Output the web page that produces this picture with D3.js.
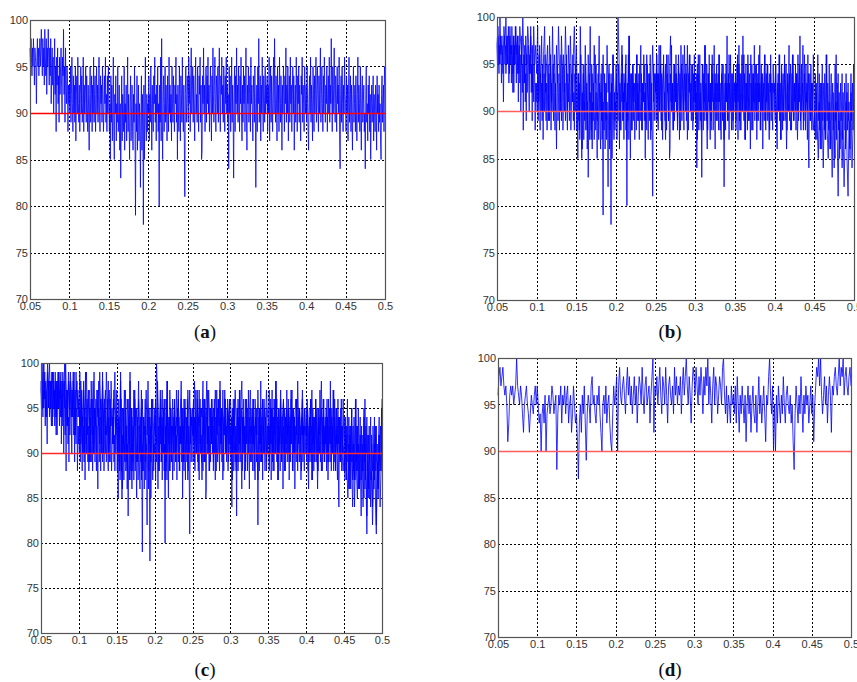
<!DOCTYPE html>
<meta charset="utf-8" />
<script src="https://d3js.org/d3.v7.min.js"></script>
<style>
  body {
    margin: 0;
    background: #fff;
  }
  .tick text {
    font-family: Arial, "Liberation Sans", sans-serif;
    font-size: 11px;
    fill: #333;
  }
  .panel-label {
    font-family: "Liberation Serif", "DejaVu Serif", serif;
    font-size: 19px;
    fill: #111;
  }
</style>
<body>
<div id="chart"></div>
<script>
  // tick values
  var xTicks = [0.05, 0.1, 0.15, 0.2, 0.25, 0.3, 0.35, 0.4, 0.45, 0.5];
  var yTicks = [70, 75, 80, 85, 90, 95, 100];
  var threshold = 90;

  var seriesA = [
    97,95,98,96,94,97,95,98,96,93,97,96,95,91,96,98,95,97,94,96,98,95,97,99,96,94,98,95,97,93,99,96,94,98,92,97,95,99,96,93,
    97,94,98,91,95,97,93,96,90,94,98,92,95,88,96,93,97,91,94,89,96,92,95,97,93,90,96,94,99,92,95,89,97,93,91,95,94,88,93,91,
    93,90,95,89,92,96,91,88,94,90,93,89,95,87,92,94,90,96,91,89,93,88,92,95,90,94,89,91,96,88,93,90,92,95,89,94,91,88,93,90,
    86,92,95,89,91,94,88,93,90,96,89,92,94,88,91,95,90,93,89,92,96,90,88,94,91,93,89,95,92,88,90,94,91,96,89,92,88,94,90,95,
    92,88,91,85,94,89,93,87,90,96,88,85,92,90,94,87,91,89,95,88,90,93,86,91,83,89,94,87,92,90,88,95,86,91,89,93,87,90,96,88,
    92,89,85,91,94,87,90,93,88,86,92,89,95,87,79,91,88,94,86,90,93,87,91,89,82,90,94,86,92,88,78,93,85,90,96,89,87,92,88,91,
    90,94,87,92,89,95,91,86,93,90,88,94,91,96,89,92,87,93,90,95,88,91,80,93,89,96,87,98,90,85,92,94,88,91,95,89,93,90,87,94,
    91,88,96,90,93,89,92,87,95,91,89,94,90,88,93,91,96,89,92,85,93,90,88,95,91,87,94,92,89,96,90,88,93,87,81,92,95,89,91,94,
    92,89,96,91,94,88,93,97,90,92,95,89,94,91,87,93,96,90,92,89,95,91,88,94,92,96,89,93,85,86,94,91,97,90,93,88,92,95,89,94,
    91,96,90,93,88,92,95,91,87,94,90,97,92,89,93,96,91,88,94,92,90,95,89,93,97,91,88,94,92,96,90,93,89,95,92,88,94,91,96,90,
    93,89,92,84,95,90,94,88,91,96,89,93,90,83,92,95,88,94,91,97,90,93,89,95,92,88,94,91,96,90,87,93,89,95,91,94,88,92,97,90,
    86,93,91,95,89,92,94,88,96,91,93,90,87,94,92,89,95,91,82,90,93,88,95,91,98,89,92,94,87,93,90,96,91,88,94,92,89,95,90,93,
    91,94,88,93,90,96,87,92,95,89,94,91,88,93,96,90,98,92,89,94,91,87,95,90,93,88,96,92,89,94,91,86,93,90,95,92,88,94,91,97,
    89,93,90,95,87,92,94,89,96,91,93,88,92,95,90,94,86,91,93,89,96,92,88,94,91,95,89,93,90,87,94,92,96,89,93,91,88,95,92,90,
    93,89,95,91,88,86,92,94,90,96,89,93,91,87,95,92,88,94,90,93,96,89,92,95,91,88,94,90,93,97,89,92,95,91,88,94,90,96,92,89,
    93,91,95,88,92,94,90,96,89,93,91,98,92,88,95,90,93,97,91,89,94,92,88,95,91,93,90,96,87,84,92,94,89,95,91,88,93,90,96,92,
    91,88,94,90,93,87,92,96,89,91,94,88,93,90,86,92,95,89,91,93,88,94,90,87,92,96,89,93,91,88,95,90,86,92,94,89,91,93,88,90,
    84,92,95,89,91,87,93,90,94,88,92,85,90,93,89,91,94,87,92,90,88,93,91,86,94,90,92,88,93,89,91,87,85,92,94,89,91,93,88,95,
    93
  ];

  var seriesB = [
    97,99,95,100,96,98,94,99,97,100,95,98,93,99,96,97,92,98,95,99,96,98,94,99,97,95,100,96,93,98,95,99,97,94,98,96,92,99,95,97,
    94,99,91,97,93,98,90,96,99,92,95,97,89,98,94,91,99,93,96,90,97,93,99,95,91,98,94,96,92,99,95,90,97,93,98,94,91,96,99,93,
    97,91,94,88,99,92,86,95,90,97,93,88,96,91,99,87,94,90,97,93,95,89,92,98,90,94,87,96,91,93,89,97,92,95,88,94,90,96,92,89,
    95,92,100,96,88,93,97,89,94,91,96,87,92,98,90,94,88,95,91,93,90,96,89,94,92,97,88,93,91,95,89,96,92,90,94,87,93,97,91,94,
    92,96,89,94,90,97,88,93,95,91,87,96,92,89,94,98,90,93,88,95,91,94,89,96,92,88,95,93,90,97,91,94,87,93,96,90,92,95,89,94,
    91,94,87,96,90,92,88,95,93,89,97,91,86,94,90,93,88,96,92,90,94,89,93,91,96,88,92,95,90,87,94,91,93,89,96,92,90,94,88,93,
    93,89,95,91,97,88,94,90,92,96,87,93,91,95,89,92,96,88,94,90,92,95,89,93,91,97,88,94,90,93,96,89,92,95,91,88,94,90,93,92,
    92,95,88,93,90,96,87,94,91,89,95,92,86,93,90,94,88,91,96,89,93,90,94,87,92,95,89,91,93,88,96,90,92,87,94,91,89,93,90,88,
    90,87,92,88,85,91,86,93,89,84,90,87,96,88,85,91,86,89,83,92,87,85,96,88,81,89,86,90,84,88,82,87,91,85,81,89,86,92,84,88,
    93
  ];

  var seriesC = [
    98,95,100,96,99,94,97,100,95,98,96,93,99,97,95,98,94,96,99,95,97,99,94,98,96,100,95,97,93,99,96,98,94,97,95,99,92,96,98,94,
    96,92,98,94,90,97,93,99,91,95,97,89,94,96,92,98,90,95,93,97,94,98,91,96,93,99,90,95,97,92,94,98,89,96,93,95,91,97,94,92,
    94,90,96,92,98,88,95,91,97,93,89,96,94,90,98,92,95,88,94,97,92,95,89,96,93,91,97,88,94,92,96,90,93,98,91,95,89,94,96,92,
    93,96,91,98,94,89,95,92,97,90,94,96,88,95,93,91,97,94,89,96,92,95,90,97,93,96,91,94,98,92,95,89,96,93,91,97,94,90,95,93,
    95,92,98,94,90,96,93,97,91,95,94,98,89,96,93,95,91,97,94,92,96,93,95,90,97,94,92,96,93,98,91,95,94,92,97,93,90,96,94,95,
    96,93,90,95,92,97,94,89,96,93,91,95,98,92,94,90,96,93,95,91,94,97,92,95,93,90,96,94,92,97,93,95,89,94,96,92,95,93,97,94,
    94,97,91,95,93,90,96,92,98,94,89,95,93,97,91,94,96,90,93,95,92,96,94,91,97,93,95,90,94,96,92,98,93,95,91,94,97,92,95,93,
    92,96,94,89,95,93,97,91,94,90,96,93,88,95,92,94,98,91,93,90,94,92,96,89,93,95,91,94,90,97,92,88,95,93,91,94,89,96,92,90,
    91,94,88,93,90,86,92,89,95,87,91,84,90,88,93,86,89,92,87,91,88,94,86,90,83,89,92,85,88,91,84,90,87,93,82,89,86,92,88,90,
    96
  ];

  var seriesD = [
    96,98,99,97,98,99,97,96,97,95,91,93,96,97,96,97,95,96,97,100,97,96,95,97,96,94,92,95,96,97,95,94,92,94,96,95,94,96,97,95,
    97,95,93,94,90,94,95,93,96,90,94,95,96,94,95,97,96,94,95,96,88,94,96,95,97,93,96,95,97,94,96,97,93,95,96,92,94,97,95,93,
    94,91,87,93,95,92,96,94,97,93,89,94,96,95,93,97,98,95,96,94,93,96,95,97,94,92,90,95,96,94,97,93,95,96,93,91,90,94,97,95,
    96,98,90,97,99,96,95,97,98,96,94,97,99,96,98,95,97,94,96,98,95,97,93,96,98,97,95,99,96,94,97,98,95,96,97,93,96,98,100,92,
    97,96,98,95,97,99,96,94,98,97,95,99,96,93,97,98,96,95,97,94,99,96,98,95,97,96,98,94,97,99,96,98,100,97,95,98,96,93,97,99,
    98,96,99,97,95,98,96,99,97,94,98,96,99,97,100,95,98,96,93,97,99,95,98,97,94,96,98,97,95,99,100,96,94,97,93,96,95,93,97,95,
    96,94,97,93,98,95,92,96,94,97,95,93,96,91,95,97,94,96,92,95,97,94,93,96,92,95,98,94,96,93,95,97,94,91,96,95,98,100,96,94,
    97,90,95,90,96,93,97,95,93,96,94,98,95,93,96,97,95,94,96,93,95,91,88,94,97,95,93,96,94,98,95,92,96,94,97,95,96,93,95,97,
    94,96,91,95,97,99,98,100,97,100,96,94,96,98,95,97,93,96,98,96,92,97,96,98,99,97,96,98,100,97,99,98,100,96,98,99,97,96,98,99,
    97
  ];

  var svg = d3
    .select("#chart")
    .append("svg")
    .attr("width", 857)
    .attr("height", 682);

  // panel boxes (pixel layout of the four sub-figures)
  var panels = [
    { name: "a", left: 30, top: 20, width: 355, height: 279, series: [seriesA], red: "#ff0000", labelX: 205, labelY: 338 },
    { name: "b", left: 497, top: 17, width: 357, height: 283, series: [seriesA, seriesB], red: "#ff5c5c", labelX: 670, labelY: 338 },
    { name: "c", left: 41, top: 363, width: 341, height: 270, series: [seriesA, seriesB, seriesC], red: "#ff2a2a", labelX: 205, labelY: 676 },
    { name: "d", left: 498, top: 358, width: 353, height: 279, series: [seriesD], red: "#ff5c5c", labelX: 670, labelY: 676 }
  ];

  panels.forEach(function(p) {
    var g = svg
      .append("g")
      .attr("transform", "translate(" + p.left + "," + p.top + ")");

    var x = d3.scaleLinear().domain([0.05, 0.5]).range([0, p.width]);
    var y = d3.scaleLinear().domain([70, 100]).range([p.height, 0]);

    // dotted grid
    g.append("g")
      .selectAll("line")
      .data(xTicks.slice(1, -1))
      .enter()
      .append("line")
      .attr("x1", function(d) { return Math.round(x(d)) + 0.5; })
      .attr("x2", function(d) { return Math.round(x(d)) + 0.5; })
      .attr("y1", 0)
      .attr("y2", p.height)
      .style("stroke", "#000")
      .style("stroke-dasharray", "2,2");

    g.append("g")
      .selectAll("line")
      .data(yTicks.slice(1, -1))
      .enter()
      .append("line")
      .attr("x1", 0)
      .attr("x2", p.width)
      .attr("y1", function(d) { return Math.round(y(d)) + 0.5; })
      .attr("y2", function(d) { return Math.round(y(d)) + 0.5; })
      .style("stroke", "#000")
      .style("stroke-dasharray", "2,2");

    // signal lines
    p.series.forEach(function(s) {
      var xi = d3.scaleLinear().domain([0, s.length - 1]).range([0.05, 0.5]);
      g.append("path")
        .datum(s)
        .style("fill", "none")
        .style("stroke", "#0000ff")
        .style("stroke-width", 0.8)
        .attr(
          "d",
          d3
            .line()
            .x(function(d, i) { return x(xi(i)); })
            .y(function(d) { return y(d); })
        );
    });

    // frame
    g.append("rect")
      .attr("x", 0.5)
      .attr("y", 0.5)
      .attr("width", p.width)
      .attr("height", p.height)
      .style("fill", "none")
      .style("stroke", "#555")
      .style("stroke-width", 1.2);

    // axes
    var xAxis = g
      .append("g")
      .attr("transform", "translate(0," + p.height + ")")
      .call(
        d3.axisBottom(x)
          .tickValues(xTicks)
          .tickSize(0)
          .tickPadding(3)
          .tickFormat(d3.format("~g"))
      );
    xAxis.select(".domain").remove();

    var yAxis = g.append("g").call(
      d3.axisLeft(y)
        .tickValues(yTicks)
        .tickSize(0)
        .tickPadding(2)
    );
    yAxis.select(".domain").remove();

    // threshold line at 90
    g.append("line")
      .attr("class", "threshold")
      .attr("x1", 1)
      .attr("x2", p.width)
      .attr("y1", Math.round(y(threshold)) + 0.5)
      .attr("y2", Math.round(y(threshold)) + 0.5)
      .style("stroke", p.red)
      .style("stroke-width", 1.3);

    // sub-figure label
    var lab = svg
      .append("text")
      .attr("class", "panel-label")
      .attr("x", p.labelX)
      .attr("y", p.labelY)
      .attr("text-anchor", "middle");
    lab.append("tspan").text("(");
    lab.append("tspan").attr("font-weight", "bold").text(p.name);
    lab.append("tspan").text(")");
  });
</script>
</body>
